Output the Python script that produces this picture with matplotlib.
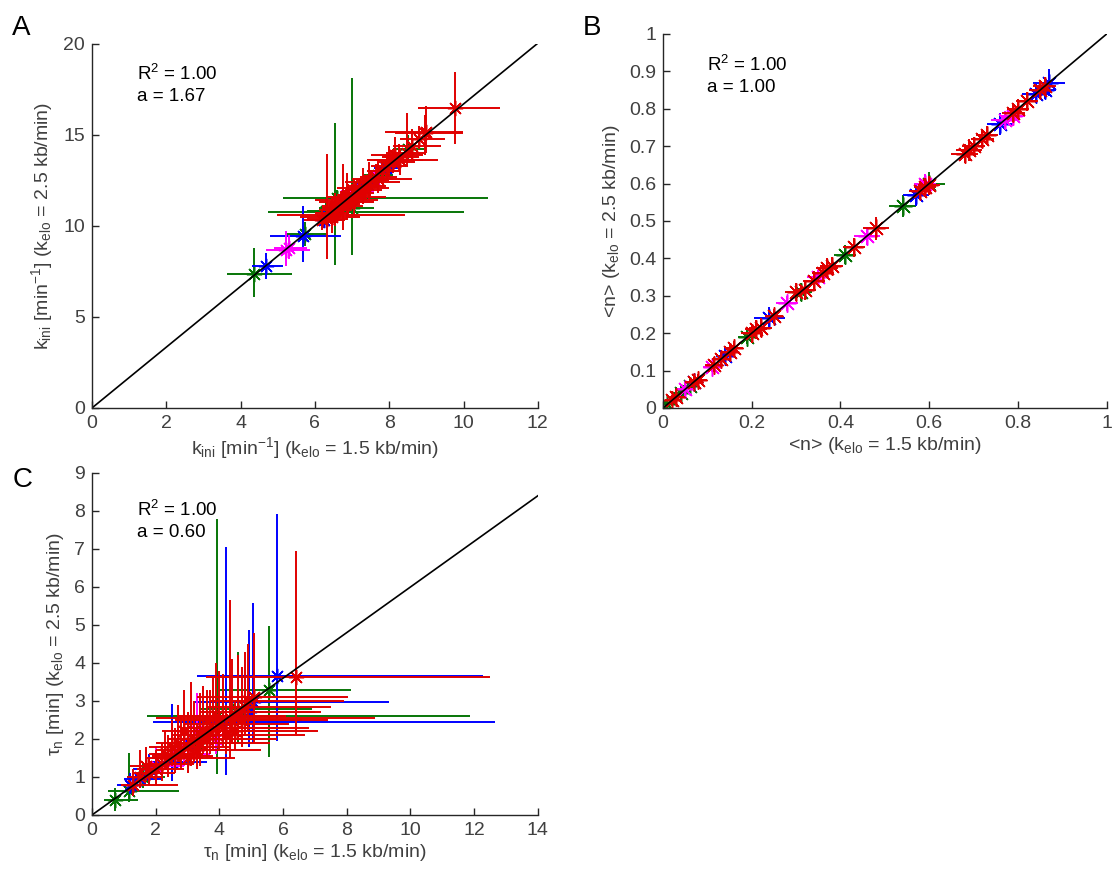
import numpy as np
import matplotlib
matplotlib.use("Agg")
import matplotlib.pyplot as plt

plt.rcParams['font.family'] = ['Liberation Sans', 'DejaVu Sans']
plt.rcParams['mathtext.default'] = 'regular'

GREEN = '#077507'
BLUE = '#0000ff'
MAGENTA = '#ff00ff'
RED = '#e00000'
AXCOL = '#262626'
TXTCOL = '#404040'

# panel A rows: x, y, x_lo, x_hi, y_lo, y_hi
a_green = [
    (4.37, 7.35, 3.63, 5.39, 6.1, 8.8),
    (5.72, 9.55, 5.2, 6.3, 8.9, 10.2),
    (6.53, 11.0, 6.1, 7.0, 7.85, 15.65),
    (7.0, 11.0, 6.5, 7.6, 8.38, 18.15),
    (6.6, 11.56, 5.14, 10.65, 11.2, 12.0),
    (6.5, 10.76, 4.74, 10.0, 10.4, 11.1),
    (7.7, 12.8, 7.3, 8.1, 12.3, 13.4),
    (8.5, 14.2, 8.1, 9.0, 13.6, 15.0),
    (6.3, 10.8, 5.8, 6.8, 10.1, 11.5),
    (7.2, 12.0, 6.9, 7.6, 11.5, 12.6),
]
a_blue = [
    (4.69, 7.79, 4.30, 5.14, 7.1, 8.5),
    (5.68, 9.43, 4.80, 6.71, 8.0, 11.1),
    (6.25, 10.3, 5.9, 6.6, 9.9, 10.8),
    (7.4, 12.3, 7.1, 7.7, 11.9, 12.8),
    (7.9, 13.2, 7.6, 8.3, 12.8, 13.7),
]
a_magenta = [
    (5.22, 8.68, 4.69, 5.87, 7.79, 9.73),
    (5.3, 8.8, 4.9, 5.8, 8.2, 9.5),
    (7.1, 11.9, 6.7, 7.6, 11.5, 12.4),
    (7.6, 12.6, 7.2, 8.1, 12.2, 13.1),
]
a_red = [
    (9.76, 16.48, 8.78, 10.99, 14.5, 18.47),
    (8.97, 15.1, 8.15, 9.98, 13.9, 16.1),
    (6.33, 10.4, 5.8, 6.9, 8.18, 13.96),
    (6.5, 10.6, 4.98, 8.42, 10.2, 11.1),
    (6.2, 10.3, 5.7, 6.8, 9.8, 10.9),
    (6.4, 10.7, 6.0, 6.9, 10.2, 11.2),
    (6.6, 11.0, 6.2, 7.1, 10.4, 11.6),
    (6.7, 11.2, 6.3, 7.2, 10.6, 11.9),
    (6.8, 11.3, 6.4, 7.3, 10.8, 12.0),
    (6.9, 11.5, 6.5, 7.4, 11.0, 12.1),
    (7.0, 11.7, 6.6, 7.5, 11.1, 12.3),
    (7.1, 11.8, 6.7, 7.6, 11.2, 12.4),
    (6.75, 11.1, 6.2, 7.3, 9.8, 13.4),
    (7.2, 12.0, 6.8, 7.8, 11.4, 12.6),
    (7.35, 12.2, 6.9, 7.9, 11.6, 12.8),
    (7.5, 12.5, 7.1, 8.0, 11.9, 13.1),
    (7.65, 12.7, 7.2, 8.2, 12.1, 13.4),
    (7.8, 13.0, 7.4, 8.3, 12.4, 13.6),
    (7.95, 13.3, 7.5, 8.5, 12.6, 13.9),
    (8.1, 13.5, 7.7, 8.7, 12.9, 14.2),
    (8.25, 13.8, 7.8, 8.8, 13.1, 14.5),
    (8.48, 14.0, 7.9, 9.0, 13.3, 16.2),
    (8.6, 14.4, 8.1, 9.4, 13.6, 15.3),
    (8.3, 13.6, 7.6, 9.3, 12.8, 14.3),
    (8.8, 14.8, 8.3, 9.5, 14.2, 15.5),
    (8.98, 15.16, 7.88, 9.98, 14.0, 16.6),
    (6.9, 11.3, 6.1, 7.6, 10.5, 12.3),
    (7.3, 12.1, 6.6, 8.0, 11.2, 13.2),
    (7.7, 12.6, 7.0, 8.6, 11.8, 13.6),
    (6.55, 10.9, 6.1, 7.0, 10.0, 11.8),
    (8.0, 13.6, 7.4, 8.9, 12.7, 14.4),
    (6.45, 10.5, 5.6, 7.2, 9.6, 11.6),
    (6.85, 11.4, 6.0, 7.7, 10.3, 12.9),
    (7.05, 11.6, 6.3, 7.9, 10.6, 12.6),
    (7.45, 12.4, 6.8, 8.3, 11.5, 13.5),
    (8.15, 13.9, 7.5, 8.9, 13.2, 14.9),
]

# panel B rows: x, y, x_err, y_err
b_green = [
    (0.01, 0.01, 0.015, 0.015), (0.04, 0.04, 0.02, 0.02),
    (0.06, 0.06, 0.02, 0.02), (0.19, 0.19, 0.02, 0.02),
    (0.31, 0.31, 0.025, 0.025), (0.41, 0.41, 0.025, 0.025),
    (0.54, 0.54, 0.03, 0.03), (0.60, 0.60, 0.035, 0.03),
]
b_blue = [
    (0.07, 0.07, 0.02, 0.015), (0.14, 0.14, 0.02, 0.02),
    (0.24, 0.24, 0.035, 0.03), (0.57, 0.57, 0.03, 0.03),
    (0.76, 0.76, 0.03, 0.03), (0.84, 0.84, 0.03, 0.025),
    (0.87, 0.87, 0.035, 0.035), (0.86, 0.85, 0.025, 0.025),
]
b_magenta = [
    (0.05, 0.05, 0.02, 0.02), (0.11, 0.11, 0.02, 0.015),
    (0.28, 0.28, 0.025, 0.02), (0.35, 0.35, 0.025, 0.02),
    (0.46, 0.46, 0.03, 0.025), (0.59, 0.60, 0.025, 0.025),
    (0.77, 0.77, 0.03, 0.025), (0.79, 0.78, 0.025, 0.025),
]
b_red = [
    (0.02, 0.02, 0.015, 0.015), (0.03, 0.03, 0.02, 0.02),
    (0.07, 0.07, 0.02, 0.02), (0.08, 0.075, 0.02, 0.015),
    (0.115, 0.115, 0.02, 0.02), (0.13, 0.13, 0.02, 0.02),
    (0.15, 0.15, 0.02, 0.02), (0.16, 0.16, 0.02, 0.02),
    (0.20, 0.20, 0.025, 0.025), (0.21, 0.21, 0.025, 0.025),
    (0.22, 0.215, 0.025, 0.025), (0.25, 0.245, 0.02, 0.02),
    (0.30, 0.31, 0.025, 0.025), (0.32, 0.315, 0.025, 0.025),
    (0.34, 0.34, 0.025, 0.025), (0.36, 0.36, 0.025, 0.025),
    (0.37, 0.375, 0.025, 0.025), (0.38, 0.38, 0.025, 0.025),
    (0.43, 0.43, 0.025, 0.025), (0.48, 0.48, 0.03, 0.03),
    (0.58, 0.58, 0.025, 0.025), (0.59, 0.59, 0.025, 0.025),
    (0.60, 0.595, 0.025, 0.025), (0.68, 0.68, 0.03, 0.025),
    (0.69, 0.69, 0.03, 0.03), (0.70, 0.70, 0.025, 0.025),
    (0.72, 0.72, 0.025, 0.025), (0.73, 0.73, 0.025, 0.025),
    (0.79, 0.79, 0.025, 0.025), (0.80, 0.80, 0.025, 0.025),
    (0.82, 0.82, 0.025, 0.025), (0.85, 0.85, 0.025, 0.025),
    (0.86, 0.86, 0.025, 0.025),
]

# panel C rows: x, y, x_lo, x_hi, y_lo, y_hi
c_green = [
    (0.72, 0.39, 0.38, 1.43, 0.1, 0.7),
    (1.17, 0.63, 0.49, 2.72, 0.35, 1.62),
    (5.57, 3.30, 4.0, 8.13, 1.53, 4.97),
    (3.93, 2.61, 1.74, 11.87, 1.07, 7.78),
    (1.6, 1.0, 1.1, 2.3, 0.7, 1.4),
    (2.5, 1.5, 1.9, 3.4, 1.1, 2.0),
    (3.3, 1.9, 2.6, 4.6, 1.5, 2.5),
    (4.6, 2.8, 3.4, 6.9, 1.9, 4.3),
]
c_blue = [
    (5.80, 3.67, 3.31, 12.28, 1.94, 7.93),
    (4.2, 2.46, 1.91, 12.65, 1.05, 7.06),
    (5.05, 2.97, 3.2, 9.32, 1.9, 5.58),
    (1.2, 0.8, 0.8, 1.7, 0.55, 1.1),
    (1.5, 0.95, 1.0, 2.2, 0.7, 1.3),
    (1.8, 1.2, 1.3, 2.6, 0.8, 1.6),
    (2.5, 1.4, 1.9, 3.6, 0.9, 2.93),
    (3.0, 1.9, 2.3, 4.3, 1.2, 2.7),
    (4.92, 2.7, 3.5, 7.0, 1.8, 4.88),
]
c_magenta = [
    (2.0, 1.3, 1.5, 2.9, 0.9, 1.8),
    (2.9, 1.8, 2.2, 4.1, 1.3, 2.5),
    (3.3, 2.2, 2.5, 4.7, 1.5, 3.2),
    (3.9, 2.0, 2.9, 5.4, 1.6, 2.6),
    (2.6, 1.6, 1.9, 3.7, 1.1, 2.2),
]
c_red = [
    (6.40, 3.64, 3.59, 12.5, 2.14, 6.95),
    (4.32, 2.56, 2.0, 8.89, 1.5, 5.66),
    (5.1, 3.11, 3.3, 8.05, 1.9, 4.79),
    (1.3, 0.8, 0.9, 2.7, 0.5, 1.2),
    (1.5, 1.0, 1.1, 2.2, 0.7, 1.7),
    (1.8, 1.1, 1.3, 2.6, 0.8, 1.5),
    (2.0, 1.2, 1.4, 2.9, 0.8, 1.7),
    (2.2, 1.35, 1.6, 3.2, 0.9, 1.9),
    (2.4, 1.5, 1.7, 3.5, 1.0, 2.1),
    (2.6, 1.55, 1.9, 3.8, 1.1, 2.3),
    (2.8, 1.7, 2.0, 4.0, 1.2, 2.6),
    (3.0, 1.8, 2.2, 4.3, 1.3, 2.7),
    (3.1, 1.9, 2.3, 4.6, 1.3, 3.5),
    (3.2, 2.0, 2.4, 4.7, 1.4, 3.0),
    (3.4, 2.1, 2.5, 4.9, 1.5, 3.2),
    (3.5, 2.2, 2.6, 5.2, 1.6, 3.4),
    (3.7, 2.2, 2.7, 5.6, 1.6, 3.3),
    (3.8, 2.3, 2.8, 6.0, 1.7, 3.6),
    (4.0, 2.4, 2.9, 6.2, 1.7, 3.8),
    (4.1, 2.3, 3.0, 6.8, 1.8, 3.7),
    (4.4, 2.5, 3.2, 6.6, 1.9, 4.1),
    (4.6, 2.7, 3.4, 7.2, 2.0, 4.2),
    (4.8, 2.85, 3.6, 7.5, 2.1, 4.3),
    (4.9, 3.0, 3.7, 7.9, 2.2, 4.5),
    (2.7, 1.9, 2.0, 4.5, 1.4, 2.9),
    (3.3, 1.7, 2.4, 5.3, 1.2, 2.4),
    (3.6, 2.0, 2.5, 5.8, 1.5, 2.8),
    (4.2, 2.1, 3.0, 6.7, 1.6, 2.9),
    (3.9, 2.6, 2.7, 6.1, 1.9, 4.0),
    (2.3, 1.6, 1.8, 3.4, 1.2, 2.2),
    (2.9, 2.2, 2.2, 4.4, 1.6, 3.3),
    (4.5, 2.2, 3.1, 7.1, 1.7, 3.0),
    (3.0, 1.5, 2.1, 4.5, 1.1, 2.1),
    (1.7, 1.3, 1.2, 2.4, 0.9, 1.8),
    (2.5, 1.8, 1.8, 3.9, 1.3, 2.5),
    (3.4, 1.9, 2.4, 5.6, 1.3, 2.6),
    (3.6, 2.5, 2.6, 5.5, 1.8, 3.3),
    (4.7, 2.5, 3.3, 7.4, 1.8, 3.9),
]

ASTER = (8, 2, 0)
MS = 11
LW = 1.4


def draw_bounds(ax, rows, color):
    d = np.array(rows)
    x, y = d[:, 0], d[:, 1]
    xerr = [x - d[:, 2], d[:, 3] - x]
    yerr = [y - d[:, 4], d[:, 5] - y]
    ax.errorbar(x, y, xerr=xerr, yerr=yerr, fmt='none', ecolor=color,
                elinewidth=LW, capsize=0)
    ax.plot(x, y, ls='none', marker=ASTER, ms=MS, mew=1.1, color=color)


def draw_sym(ax, rows, color):
    d = np.array(rows)
    ax.errorbar(d[:, 0], d[:, 1], xerr=d[:, 2], yerr=d[:, 3], fmt='none',
                ecolor=color, elinewidth=LW, capsize=0)
    ax.plot(d[:, 0], d[:, 1], ls='none', marker=ASTER, ms=MS + 2, mew=1.1,
            color=color)


def style(ax, xmax, ymax, xticks, yticks, yticklabels=None, xticklabels=None):
    ax.set_xlim(0, xmax)
    ax.set_ylim(0, ymax)
    ax.set_xticks(xticks)
    ax.set_yticks(yticks)
    if xticklabels is not None:
        ax.set_xticklabels(xticklabels)
    if yticklabels is not None:
        ax.set_yticklabels(yticklabels)
    for s in ['top', 'right']:
        ax.spines[s].set_visible(False)
    for s in ['left', 'bottom']:
        ax.spines[s].set_color(AXCOL)
        ax.spines[s].set_linewidth(1.0)
    ax.tick_params(direction='in', length=5, width=1.0, color=AXCOL,
                   labelcolor=TXTCOL, labelsize=14, pad=5)
    for s in ax.spines.values():
        s.set_zorder(10)


fig = plt.figure(figsize=(11.12, 8.71), dpi=100)

axA = fig.add_axes([0.0827, 0.5316, 0.401, 0.418])
axB = fig.add_axes([0.5962, 0.5316, 0.399, 0.4294])
axC = fig.add_axes([0.0827, 0.0643, 0.401, 0.3927])

FS = 14

# A
for rows, c in [(a_green, GREEN), (a_blue, BLUE), (a_magenta, MAGENTA), (a_red, RED)]:
    draw_bounds(axA, rows, c)
axA.plot([0, 12], [0, 12 * 1.67], color='k', lw=1.2, zorder=5)
style(axA, 12, 20, range(0, 13, 2), range(0, 21, 5))
axA.set_xlabel('k$_{ini}$ [min$^{-1}$] (k$_{elo}$ = 1.5 kb/min)', fontsize=FS,
               color=TXTCOL, labelpad=2)
axA.set_ylabel('k$_{ini}$ [min$^{-1}$] (k$_{elo}$ = 2.5 kb/min)', fontsize=FS,
               color=TXTCOL, labelpad=6)
axA.text(1.2, 17.75, 'R$^{2}$ = 1.00\na = 1.67', fontsize=13.5, va='center',
         linespacing=1.3)

# B
for rows, c in [(b_green, GREEN), (b_blue, BLUE), (b_magenta, MAGENTA), (b_red, RED)]:
    draw_sym(axB, rows, c)
axB.plot([0, 1], [0, 1], color='k', lw=1.2, zorder=5)
bt = [0, 0.1, 0.2, 0.3, 0.4, 0.5, 0.6, 0.7, 0.8, 0.9, 1]
style(axB, 1, 1, [0, 0.2, 0.4, 0.6, 0.8, 1], bt,
      yticklabels=['0', '0.1', '0.2', '0.3', '0.4', '0.5', '0.6', '0.7', '0.8', '0.9', '1'],
      xticklabels=['0', '0.2', '0.4', '0.6', '0.8', '1'])
axB.set_xlabel('<n> (k$_{elo}$ = 1.5 kb/min)', fontsize=FS, color=TXTCOL, labelpad=2)
axB.set_ylabel('<n> (k$_{elo}$ = 2.5 kb/min)', fontsize=FS, color=TXTCOL, labelpad=5)
axB.text(0.1, 0.89, 'R$^{2}$ = 1.00\na = 1.00', fontsize=13.5, va='center',
         linespacing=1.3)

# C
for rows, c in [(c_green, GREEN), (c_blue, BLUE), (c_magenta, MAGENTA), (c_red, RED)]:
    draw_bounds(axC, rows, c)
axC.plot([0, 14], [0, 14 * 0.6], color='k', lw=1.2, zorder=5)
style(axC, 14, 9, range(0, 15, 2), range(0, 10))
axC.set_xlabel('τ$_{n}$ [min] (k$_{elo}$ = 1.5 kb/min)', fontsize=FS,
               color=TXTCOL, labelpad=2)
axC.set_ylabel('τ$_{n}$ [min] (k$_{elo}$ = 2.5 kb/min)', fontsize=FS,
               color=TXTCOL, labelpad=6)
axC.text(1.4, 7.75, 'R$^{2}$ = 1.00\na = 0.60', fontsize=13.5, va='center',
         linespacing=1.3)

fig.text(0.011, 0.968, 'A', fontsize=20, va='center')
fig.text(0.524, 0.968, 'B', fontsize=20, va='center')
fig.text(0.011, 0.449, 'C', fontsize=20, va='center')

fig.savefig('out.png', dpi=100)
